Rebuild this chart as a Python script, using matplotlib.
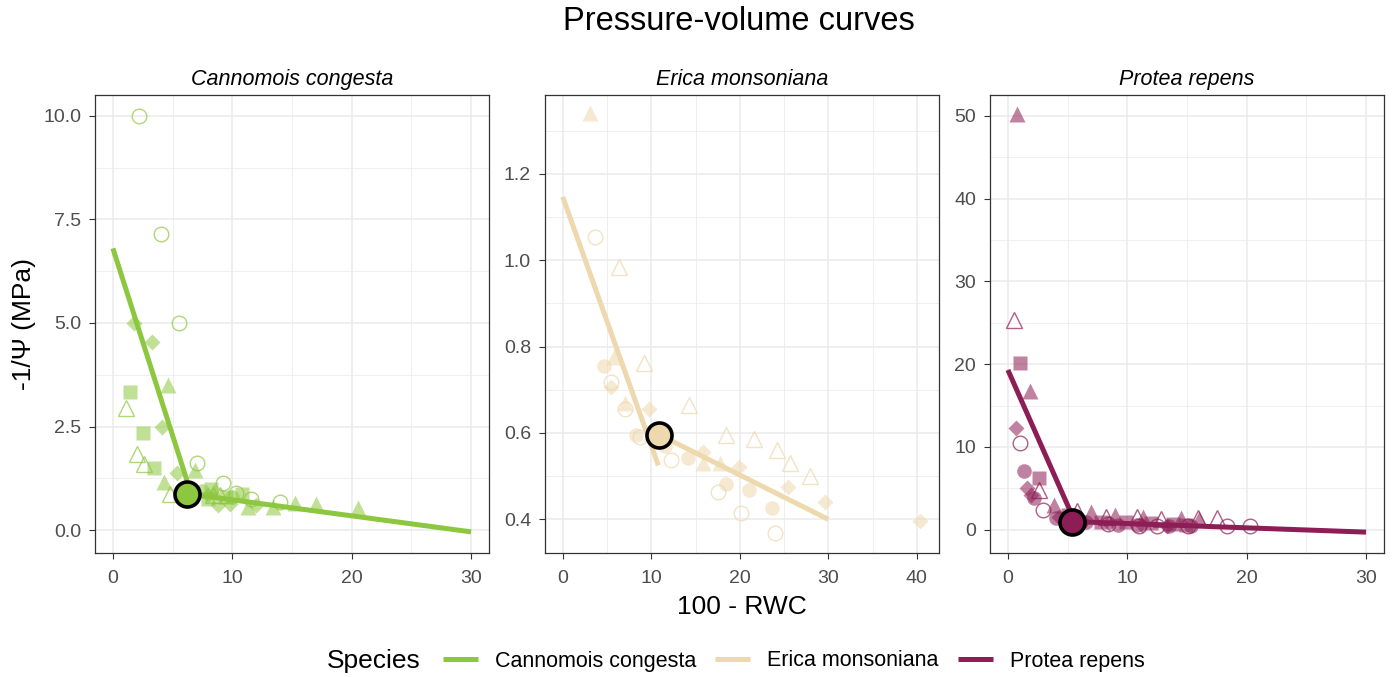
import matplotlib
matplotlib.use("Agg")
import matplotlib.pyplot as plt
from matplotlib.lines import Line2D
from matplotlib.ticker import MultipleLocator

plt.rcParams['font.family'] = ['Liberation Sans', 'DejaVu Sans']

species = ["Cannomois congesta", "Erica monsoniana", "Protea repens"]
colors = ["#8DC73F", "#EED8AE", "#8C1D55"]

# points per species, keyed by marker (individual)
# 'o' open circle, '^' open triangle, 's' square, 'O' filled circle, 'T' filled triangle, 'D' diamond
cc_pts = {
    'o': ([2.2, 4.0, 5.5, 7.05, 9.2, 10.3, 11.6, 14.0], [10.0, 7.15, 5.0, 1.63, 1.13, 0.9, 0.76, 0.68]),
    'D': ([1.8, 3.3, 4.1, 5.4, 8.0, 9.8, 12.0, 8.8], [5.0, 4.53, 2.5, 1.39, 0.85, 0.64, 0.62, 0.6]),
    'T': ([4.6, 4.3, 6.9, 8.5, 11.3, 13.4, 15.25, 17.05, 20.5], [3.5, 1.17, 1.45, 0.95, 0.56, 0.56, 0.66, 0.64, 0.54]),
    's': ([1.4, 2.5, 3.4, 8.2, 10.8, 8.0, 9.5], [3.34, 2.35, 1.51, 1.0, 0.88, 0.75, 0.8]),
    '^': ([1.1, 2.0, 2.6, 4.8, 8.4, 9.0], [2.94, 1.85, 1.6, 0.88, 0.85, 0.85]),
    'O': ([7.5, 10.0], [0.95, 0.8]),
}
em_pts = {
    '^': ([6.4, 9.2, 14.3, 18.4, 21.6, 24.2, 25.7, 27.9], [0.985, 0.763, 0.664, 0.595, 0.587, 0.56, 0.53, 0.5]),
    'o': ([3.6, 5.5, 7.0, 8.7, 12.2, 17.5, 20.1, 24.0], [1.054, 0.717, 0.656, 0.59, 0.537, 0.464, 0.414, 0.369]),
    'D': ([5.5, 9.8, 15.8, 19.9, 25.5, 29.6, 40.3], [0.706, 0.656, 0.556, 0.522, 0.476, 0.441, 0.395]),
    'O': ([4.7, 8.3, 11.5, 14.1, 18.4, 21.0, 23.6], [0.756, 0.595, 0.57, 0.541, 0.483, 0.468, 0.426]),
    'T': ([3.03, 5.8, 7.0, 10.0, 15.9, 17.8], [1.342, 0.775, 0.67, 0.6, 0.53, 0.53]),
}
pr_pts = {
    'T': ([0.75, 1.87, 3.85, 7.0, 9.0, 11.3, 14.5, 16.0], [50.2, 16.8, 3.0, 2.2, 1.8, 1.6, 1.4, 1.3]),
    '^': ([0.47, 2.6, 5.8, 8.2, 10.8, 12.8, 15.9, 17.5], [25.3, 4.8, 2.3, 1.6, 1.5, 1.3, 1.4, 1.4]),
    's': ([1.0, 2.6, 5.0, 7.8, 9.9, 12.0, 13.8, 14.9], [20.1, 6.2, 1.8, 1.0, 0.9, 0.8, 0.7, 0.6]),
    'D': ([0.67, 1.64, 1.9, 4.3, 6.2, 8.5, 11.2, 13.3], [12.3, 5.0, 4.2, 1.6, 1.0, 0.8, 0.6, 0.5]),
    'o': ([1.0, 2.9, 6.0, 8.4, 11.0, 12.5, 15.1, 18.35, 20.25], [10.5, 2.4, 1.0, 0.7, 0.5, 0.4, 0.4, 0.4, 0.5]),
    'O': ([1.36, 2.2, 4.0, 6.5, 9.2, 10.8, 13.5, 15.3], [7.16, 3.8, 1.4, 0.9, 0.6, 0.6, 0.5, 0.4]),
}
points = [cc_pts, em_pts, pr_pts]

# fitted segments (start, end) and turgor loss point
seg1_x = [[0, 6.2], [0, 10.8], [0, 5.3]]
seg1_y = [[6.8, 1.2], [1.147, 0.525], [19.3, 2.0]]
seg2_x = [[6.2, 30], [10.9, 30], [5.35, 30]]
seg2_y = [[0.88, -0.04], [0.596, 0.40], [1.0, -0.28]]
tlp_x = [6.2, 10.9, 5.35]
tlp_y = [0.88, 0.596, 1.0]

xlims = [(-1.5, 31.5), (-2.0, 42.5), (-1.5, 31.5)]
ylims = [(-0.55, 10.5), (0.322, 1.383), (-2.8, 52.5)]
yticks = [[0, 2.5, 5, 7.5, 10], [0.4, 0.6, 0.8, 1.0, 1.2], [0, 10, 20, 30, 40, 50]]
ylabels = [["0.0", "2.5", "5.0", "7.5", "10.0"], ["0.4", "0.6", "0.8", "1.0", "1.2"],
           ["0", "10", "20", "30", "40", "50"]]
yminor = [1.25, 0.1, 5]
xticks = [[0, 10, 20, 30], [0, 10, 20, 30, 40], [0, 10, 20, 30]]

W, H = 1395, 677
fig = plt.figure(figsize=(W / 100, H / 100), dpi=100)
lefts = [95, 545, 990]
pw, top, bot = 394, 95, 553

mk = {'o': ('o', False), '^': ('^', False), 's': ('s', True),
      'O': ('o', True), 'T': ('^', True), 'D': ('D', True)}
msize = {'o': 10.5, '^': 11.5, 's': 9.5, 'O': 10.5, 'T': 11, 'D': 8}

for i in range(3):
    ax = fig.add_axes([lefts[i] / W, 1 - bot / H, pw / W, (bot - top) / H])
    c = colors[i]
    for key, (xs, ys) in points[i].items():
        m, filled = mk[key]
        if filled:
            ax.plot(xs, ys, ls='none', marker=m, ms=msize[key], mfc=c, mec='none', alpha=0.55, zorder=3)
        else:
            ax.plot(xs, ys, ls='none', marker=m, ms=msize[key], mfc='none', mec=c, mew=1.0, alpha=0.7, zorder=3)
    ax.plot(seg1_x[i], seg1_y[i], color=c, lw=3.6, solid_capstyle='butt', zorder=4)
    ax.plot(seg2_x[i], seg2_y[i], color=c, lw=3.6, solid_capstyle='butt', zorder=4)
    ax.plot(tlp_x[i], tlp_y[i], marker='o', ms=18, mfc=c, mec='black', mew=2.6, zorder=5)

    ax.set_xlim(*xlims[i])
    ax.set_ylim(*ylims[i])
    ax.set_xticks(xticks[i])
    ax.xaxis.set_minor_locator(MultipleLocator(5))
    ax.set_yticks(yticks[i])
    ax.set_yticklabels(ylabels[i])
    ax.yaxis.set_minor_locator(MultipleLocator(yminor[i]))
    ax.grid(which='major', color='#EBEBEB', lw=1.1)
    ax.grid(which='minor', color='#EBEBEB', lw=0.55)
    ax.set_axisbelow(True)
    ax.tick_params(which='major', length=4, width=0.8, color='#333333', labelsize=14,
                   labelcolor='#4D4D4D')
    ax.tick_params(axis='y', pad=6)
    ax.tick_params(axis='x', pad=8)
    ax.tick_params(which='minor', length=0)
    for s in ax.spines.values():
        s.set_color('#333333')
        s.set_linewidth(0.9)
    ax.set_title(species[i], fontsize=15.5, style='italic', pad=7)
    if i == 0:
        ax.set_ylabel("-1/Ψ (MPa)", fontsize=19, labelpad=5)
    if i == 1:
        ax.set_xlabel("100 - RWC", fontsize=19, labelpad=6)

fig.text(739 / W, 1 - 22 / H, "Pressure-volume curves", ha='center', va='center', fontsize=23.5)

fig.text(327 / W, 1 - 661 / H, "Species", ha='left', va='center', fontsize=19)
handles = [Line2D([], [], color=c, lw=3.6, solid_capstyle='butt') for c in colors]
fig.legend(handles, species, loc='center left', bbox_to_anchor=(443 / W, 1 - 661 / H),
           ncol=3, frameon=False, fontsize=15.5, handlelength=1.63, handletextpad=0.79,
           columnspacing=0.88, borderaxespad=0, borderpad=0)

fig.savefig("out.png", dpi=100)
